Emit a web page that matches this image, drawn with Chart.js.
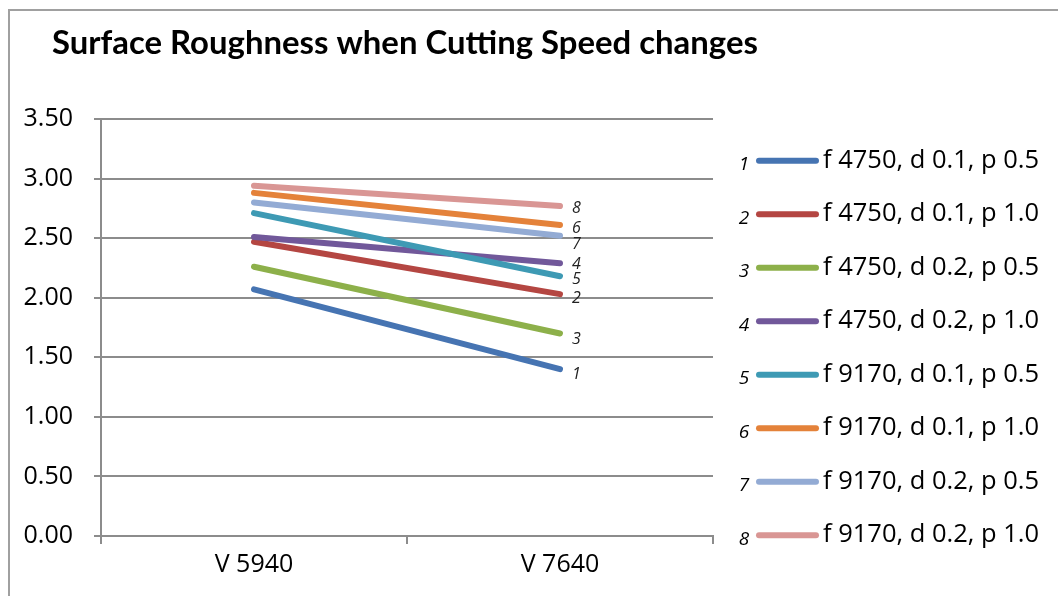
<!DOCTYPE html>
<html>
<head>
<meta charset="utf-8">
<script src="https://cdn.jsdelivr.net/npm/chart.js@4.4.1/dist/chart.umd.min.js"></script>
<style>
  html, body { margin: 0; padding: 0; background: #ffffff; }
  #wrap { position: relative; width: 1058px; height: 596px; }
</style>
</head>
<body>
<div id="wrap"><canvas id="c"></canvas></div>
<script>
// ---- data ----
const titleText = 'Surface Roughness when Cutting Speed changes';
const categories = ['V 5940', 'V 7640'];
const seriesIds = ['1', '2', '3', '4', '5', '6', '7', '8'];
const seriesNames = [
  'f 4750, d 0.1, p 0.5',
  'f 4750, d 0.1, p 1.0',
  'f 4750, d 0.2, p 0.5',
  'f 4750, d 0.2, p 1.0',
  'f 9170, d 0.1, p 0.5',
  'f 9170, d 0.1, p 1.0',
  'f 9170, d 0.2, p 0.5',
  'f 9170, d 0.2, p 1.0'
];
const s1 = [2.07, 1.40];
const s2 = [2.47, 2.03];
const s3 = [2.26, 1.70];
const s4 = [2.51, 2.29];
const s5 = [2.71, 2.18];
const s6 = [2.88, 2.61];
const s7 = [2.80, 2.52];
const s8 = [2.94, 2.77];
const seriesValues = [s1, s2, s3, s4, s5, s6, s7, s8];
const yTicks = [0, 0.5, 1.0, 1.5, 2.0, 2.5, 3.0, 3.5];

// ---- styles ----
const colors = ['#4674B2', '#B44642', '#8DB04A', '#71589A', '#3E9AB4', '#E4823A', '#93ABD4', '#D99694'];
const labelDy = [5, 4, 6, 1, 3, 3, 9, 2];
const gridColor = '#8c8c8c';
const tickFont = { family: "'Open Sans', sans-serif", size: 25 };

const datasets = seriesValues.map((vals, i) => ({
  label: seriesNames[i],
  data: vals,
  borderColor: colors[i],
  backgroundColor: colors[i],
  borderWidth: 6,
  borderCapStyle: 'round',
  pointRadius: 0,
  pointHoverRadius: 0,
  tension: 0,
  fill: false,
  order: seriesValues.length - i,
  _id: seriesIds[i],
  _dy: labelDy[i]
}));

const frameTitlePlugin = {
  id: 'frameTitle',
  beforeDraw(chart) {
    const ctx = chart.ctx;
    ctx.save();
    ctx.fillStyle = '#ffffff';
    ctx.fillRect(0, 0, chart.width, chart.height);
    ctx.strokeStyle = '#a0a0a0';
    ctx.lineWidth = 2;
    ctx.strokeRect(9, 10, chart.width + 50, chart.height + 50);
    ctx.restore();
  },
  afterDraw(chart) {
    const ctx = chart.ctx;
    ctx.save();
    // title
    let size = 28;
    ctx.font = 'bold ' + size + "px Lato, 'Open Sans', sans-serif";
    const w = ctx.measureText(titleText).width;
    size = size * 706 / w;
    ctx.font = 'bold ' + size.toFixed(2) + "px Lato, 'Open Sans', sans-serif";
    ctx.fillStyle = '#000000';
    ctx.textBaseline = 'middle';
    ctx.textAlign = 'left';
    ctx.fillText(titleText, 52, 43);

    // legend
    const x0 = 759, x1 = 816, tx = 823;
    chart.data.datasets.forEach((ds, i) => {
      const y = 160.7 + i * 53.5;
      ctx.beginPath();
      ctx.strokeStyle = ds.borderColor;
      ctx.lineWidth = 6;
      ctx.lineCap = 'round';
      ctx.moveTo(x0, y);
      ctx.lineTo(x1, y);
      ctx.stroke();
      ctx.fillStyle = '#000000';
      ctx.textAlign = 'left';
      ctx.textBaseline = 'middle';
      ctx.font = "25.5px 'Open Sans', sans-serif";
      ctx.fillText(ds.label, tx, y);
      ctx.font = "italic 19px 'Open Sans', sans-serif";
      ctx.textAlign = 'center';
      ctx.fillText(ds._id, 744, y + 4);
    });

    // data labels at last point
    ctx.font = "italic 16px 'Open Sans', sans-serif";
    ctx.textAlign = 'left';
    ctx.textBaseline = 'middle';
    ctx.fillStyle = '#222222';
    chart.data.datasets.forEach((ds, i) => {
      const meta = chart.getDatasetMeta(i);
      const pt = meta.data[meta.data.length - 1];
      ctx.fillText(ds._id, pt.x + 12, pt.y + ds._dy);
    });
    ctx.restore();
  }
};

new Chart(document.getElementById('c'), {
  type: 'line',
  data: { labels: categories, datasets },
  options: {
    responsive: true,
    maintainAspectRatio: false,
    animation: false,
    events: [],
    layout: { padding: { left: 0, top: 119, right: 345, bottom: 0 } },
    plugins: {
      legend: { display: false },
      title: { display: false },
      tooltip: { enabled: false }
    },
    scales: {
      x: {
        type: 'category',
        offset: true,
        grid: { offset: true, drawOnChartArea: false, drawTicks: true, tickLength: 8, color: gridColor, lineWidth: 2 },
        border: { color: gridColor, width: 2 },
        ticks: { font: tickFont, color: '#000000', padding: 6, maxRotation: 0, autoSkip: false },
        afterFit(scale) { scale.height = 60; }
      },
      y: {
        min: 0,
        max: 3.5,
        afterBuildTicks(scale) { scale.ticks = yTicks.map(v => ({ value: v })); },
        grid: { color: gridColor, lineWidth: 2, tickLength: 7, drawTicks: true },
        border: { color: gridColor, width: 2 },
        ticks: { font: tickFont, color: '#000000', padding: 21, callback: v => Number(v).toFixed(2) },
        afterFit(scale) { scale.width = 101; }
      }
    }
  },
  plugins: [frameTitlePlugin]
});
</script>
</body>
</html>
